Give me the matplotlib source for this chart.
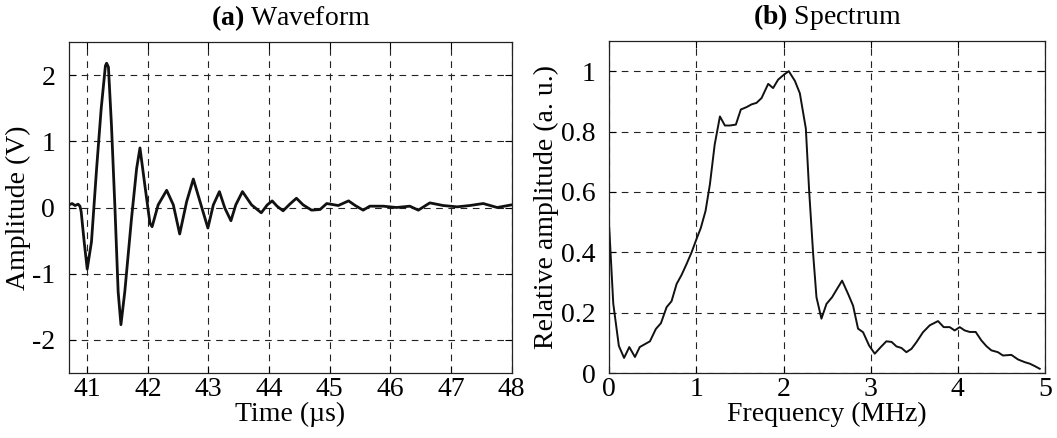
import matplotlib
matplotlib.use("Agg")
import matplotlib.pyplot as plt
from matplotlib.ticker import FuncFormatter

plt.rcParams['font.family'] = ['Liberation Serif', 'DejaVu Serif']
plt.rcParams['mathtext.fontset'] = 'custom'
plt.rcParams['mathtext.rm'] = 'Liberation Serif'
plt.rcParams['mathtext.bf'] = 'Liberation Serif:bold'

# ---- Waveform data (time in µs, amplitude in V) ----
wave_t = [40.70, 40.75, 40.80, 40.85, 40.88, 40.90, 40.95, 41.00, 41.07, 41.155, 41.23, 41.30, 41.32,
          41.35, 41.40, 41.457, 41.51, 41.556, 41.62, 41.73, 41.815, 41.87, 41.95, 42.035, 42.07,
          42.17, 42.31, 42.42, 42.525, 42.64, 42.75, 42.86, 42.99, 43.08, 43.18, 43.27, 43.37,
          43.45, 43.56, 43.71, 43.87, 43.97, 44.05, 44.13, 44.23, 44.34, 44.45, 44.56, 44.70,
          44.84, 44.95, 45.14, 45.31, 45.42, 45.55, 45.66, 45.88, 46.10, 46.32, 46.46, 46.65,
          46.87, 47.10, 47.31, 47.53, 47.76, 48.00]
wave_v = [0.04, 0.06, 0.03, 0.05, 0.02, -0.06, -0.52, -0.93, -0.52, 0.59, 1.49, 2.14, 2.18,
          2.12, 1.24, 0.00, -1.27, -1.77, -1.27, -0.17, 0.59, 0.90, 0.34, -0.24, -0.29,
          0.04, 0.26, 0.04, -0.40, 0.09, 0.43, 0.09, -0.31, 0.04, 0.24, -0.01, -0.20,
          0.04, 0.24, 0.04, -0.08, 0.04, 0.10, 0.02, -0.05, 0.05, 0.14, 0.04, -0.04,
          -0.03, 0.06, 0.03, 0.10, 0.03, -0.04, 0.02, 0.02, 0.00, 0.02, -0.04, 0.07,
          0.03, 0.01, 0.03, 0.06, 0.00, 0.04]

# ---- Spectrum data (frequency in MHz, relative amplitude) ----
spec_f = [0.0, 0.046, 0.11, 0.17, 0.23, 0.295, 0.35, 0.467, 0.535, 0.593, 0.658, 0.715, 0.773,
          0.83, 0.887, 0.945, 1.0, 1.05, 1.105, 1.155, 1.21, 1.27, 1.327, 1.384, 1.453, 1.51,
          1.576, 1.633, 1.69, 1.748, 1.824, 1.88, 1.938, 2.003, 2.06, 2.13, 2.187, 2.256, 2.294,
          2.34, 2.378, 2.435, 2.493, 2.557, 2.615, 2.672, 2.741, 2.798, 2.855, 2.913, 2.982,
          3.047, 3.116, 3.18, 3.24, 3.296, 3.353, 3.41, 3.468, 3.525, 3.6, 3.678, 3.773,
          3.838, 3.907, 3.964, 4.022, 4.079, 4.137, 4.205, 4.27, 4.328, 4.385, 4.46, 4.518,
          4.615, 4.69, 4.767, 4.825, 4.882, 4.94]
spec_a = [0.48, 0.23, 0.09, 0.05, 0.086, 0.053, 0.086, 0.105, 0.146, 0.165, 0.218, 0.238, 0.295,
          0.325, 0.361, 0.40, 0.443, 0.48, 0.537, 0.625, 0.757, 0.85, 0.82, 0.82, 0.823, 0.873,
          0.881, 0.89, 0.895, 0.911, 0.958, 0.944, 0.972, 0.988, 1.0, 0.968, 0.927, 0.81, 0.603,
          0.394, 0.251, 0.18, 0.229, 0.251, 0.279, 0.306, 0.262, 0.223, 0.147, 0.135, 0.091,
          0.064, 0.086, 0.105, 0.103, 0.088, 0.083, 0.069, 0.08, 0.102, 0.135, 0.158, 0.172,
          0.152, 0.152, 0.141, 0.152, 0.141, 0.136, 0.136, 0.108, 0.089, 0.075, 0.069, 0.058,
          0.06, 0.045, 0.036, 0.031, 0.023, 0.014]

wave_xticks = [41, 42, 43, 44, 45, 46, 47, 48]
wave_yticks = [-2, -1, 0, 1, 2]
spec_xticks = [0, 1, 2, 3, 4, 5]
spec_yticks = [0, 0.2, 0.4, 0.6, 0.8, 1.0]

FS = 20
fig = plt.figure(figsize=(10.57, 4.38), dpi=100)
ax1 = fig.add_axes([0.0653, 0.1484, 0.4188, 0.7557])
ax2 = fig.add_axes([0.5764, 0.1484, 0.4122, 0.7580])

def hyphen_fmt(v, pos):
    if abs(v - round(v)) < 1e-9:
        s = str(int(round(v)))
    else:
        s = ('%g' % v)
    return s.replace('\u2212', '-')

for ax in (ax1, ax2):
    ax.grid(True, color='#222222', linestyle=(0, (6, 5)), linewidth=0.8)
    ax.tick_params(direction='in', top=True, right=True, labelsize=FS, length=5, width=0.8)
    ax.tick_params(axis='x', pad=3)
    ax.tick_params(axis='y', pad=10)
    for sp in ax.spines.values():
        sp.set_linewidth(0.9)
        sp.set_color('#222222')
    ax.yaxis.set_major_formatter(FuncFormatter(hyphen_fmt))
    ax.xaxis.set_major_formatter(FuncFormatter(hyphen_fmt))

ax1.plot(wave_t, wave_v, color='#111111', linewidth=2.0)
ax1.set_xlim(40.7, 48)
ax1.set_ylim(-2.5, 2.5)
ax1.set_xticks(wave_xticks)
ax1.set_yticks(wave_yticks)
ax1.set_xlabel('Time (µs)', fontsize=FS, labelpad=0)
ax1.set_ylabel('Amplitude (V)', fontsize=FS, labelpad=1)
ax1.set_title(r'$\mathbf{(a)}$ Waveform', fontsize=FS, pad=12)

ax2.plot(spec_f, spec_a, color='#111111', linewidth=1.4)
ax2.set_xlim(0, 5)
ax2.set_ylim(0, 1.1)
ax2.set_xticks(spec_xticks)
ax2.set_yticks(spec_yticks)
ax2.set_xlabel('Frequency (MHz)', fontsize=FS, labelpad=0)
ax2.set_ylabel('Relative amplitude (a. u.)', fontsize=FS, labelpad=1)
ax2.set_title(r'$\mathbf{(b)}$ Spectrum', fontsize=FS, pad=12)

fig.savefig('out.png', dpi=100)
